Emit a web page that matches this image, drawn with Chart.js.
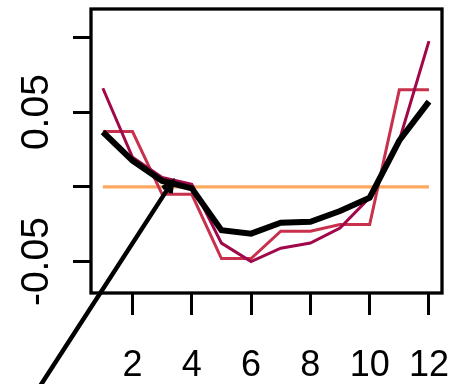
<!DOCTYPE html>
<html>
<head>
<meta charset="utf-8">
<script src="https://cdn.jsdelivr.net/npm/chart.js@4/dist/chart.umd.min.js"></script>
<style>
  html, body { margin: 0; padding: 0; background: #fff; }
  #wrap { width: 464px; height: 384px; }
</style>
</head>
<body>
<div id="wrap"><canvas id="c" width="464" height="384"></canvas></div>
<script>
// x positions and series values
const xs = [1, 2, 3, 4, 5, 6, 7, 8, 9, 10, 11, 12];
const meanLine = [0.0367, 0.0176, 0.004, -0.001, -0.029, -0.0313, -0.024, -0.0234, -0.0162, -0.0072, 0.031, 0.057];
const stepLine = [0.037, 0.037, -0.005, -0.005, -0.048, -0.048, -0.0297, -0.0297, -0.0252, -0.0252, 0.0649, 0.0649];
const upperLine = [0.066, 0.0198, 0.0063, 0.0018, -0.0376, -0.05, -0.041, -0.0376, -0.0275, -0.0072, 0.031, 0.0975];
const zeroLine = [0, 0, 0, 0, 0, 0, 0, 0, 0, 0, 0, 0];

const xTicks = [2, 4, 6, 8, 10, 12];
const yTicks = [-0.05, 0, 0.05, 0.1];
const yLabels = ['-0.05', '', '0.05', ''];

// arrow annotation in data units: tail, tip
const arrowFrom = [-1.11, -0.133];
const arrowTo = [3.33, 0.003];

const toPoints = arr => arr.map((v, i) => ({ x: xs[i], y: v }));

// 枠と矢印を描くプラグイン
const boxAndArrow = {
    id: 'boxAndArrow',
    afterDraw(chart) {
        const { ctx, chartArea, scales } = chart;
        ctx.save();
        ctx.strokeStyle = '#000';
        ctx.lineWidth = 3.3;
        ctx.strokeRect(chartArea.left, chartArea.top, chartArea.right - chartArea.left, chartArea.bottom - chartArea.top);

        const x0 = scales.x.getPixelForValue(arrowFrom[0]);
        const y0 = scales.y.getPixelForValue(arrowFrom[1]);
        const x1 = scales.x.getPixelForValue(arrowTo[0]);
        const y1 = scales.y.getPixelForValue(arrowTo[1]);
        ctx.lineWidth = 4.5;
        ctx.beginPath();
        ctx.moveTo(x0, y0);
        ctx.lineTo(x1, y1);
        const ang = Math.atan2(y1 - y0, x1 - x0);
        const len = 11;
        ctx.moveTo(x1 - len * Math.cos(ang - 0.45), y1 - len * Math.sin(ang - 0.45));
        ctx.lineTo(x1, y1);
        ctx.lineTo(x1 - len * Math.cos(ang + 0.45), y1 - len * Math.sin(ang + 0.45));
        ctx.stroke();
        ctx.restore();
    }
};

const ctx = document.getElementById('c').getContext('2d');
new Chart(ctx, {
    type: 'line',
    data: {
        datasets: [
            {
                data: toPoints(meanLine),
                borderColor: '#000000',
                borderWidth: 6,
                order: 0
            },
            {
                data: toPoints(upperLine),
                borderColor: '#A0084A',
                borderWidth: 3,
                order: 1
            },
            {
                data: toPoints(stepLine),
                borderColor: '#C8304B',
                borderWidth: 3,
                order: 2
            },
            {
                data: toPoints(zeroLine),
                borderColor: '#FCA860',
                borderWidth: 3.3,
                order: 3
            }
        ]
    },
    options: {
        responsive: false,
        animation: false,
        layout: { padding: { top: 9, right: 22, left: 0, bottom: 0 } },
        elements: {
            line: { tension: 0, fill: false, borderCapStyle: 'butt', borderJoinStyle: 'miter' },
            point: { radius: 0 }
        },
        plugins: {
            legend: { display: false },
            tooltip: { enabled: false }
        },
        scales: {
            x: {
                type: 'linear',
                min: 0.6,
                max: 12.44,
                afterBuildTicks: scale => { scale.ticks = xTicks.map(v => ({ value: v })); },
                afterFit: scale => { scale.height = 91; scale.paddingLeft = 0; scale.paddingRight = 0; },
                border: { display: false },
                grid: { drawOnChartArea: false, drawTicks: true, tickLength: 22, lineWidth: 3, color: '#000' },
                ticks: {
                    color: '#000',
                    padding: 29,
                    maxRotation: 0,
                    autoSkip: false,
                    font: { family: 'Liberation Sans, Arial, sans-serif', size: 36 }
                }
            },
            y: {
                type: 'linear',
                min: -0.071,
                max: 0.119,
                afterBuildTicks: scale => { scale.ticks = yTicks.map(v => ({ value: v })); },
                afterFit: scale => { scale.width = 91; scale.paddingTop = 0; scale.paddingBottom = 0; },
                border: { display: false },
                grid: { drawOnChartArea: false, drawTicks: true, tickLength: 18, lineWidth: 3, color: '#000' },
                ticks: {
                    color: '#000',
                    padding: -9,
                    minRotation: 90,
                    maxRotation: 90,
                    crossAlign: 'center',
                    autoSkip: false,
                    font: { family: 'Liberation Sans, Arial, sans-serif', size: 39 },
                    callback: (value, index) => yLabels[index]
                }
            }
        }
    },
    plugins: [boxAndArrow]
});
</script>
</body>
</html>
